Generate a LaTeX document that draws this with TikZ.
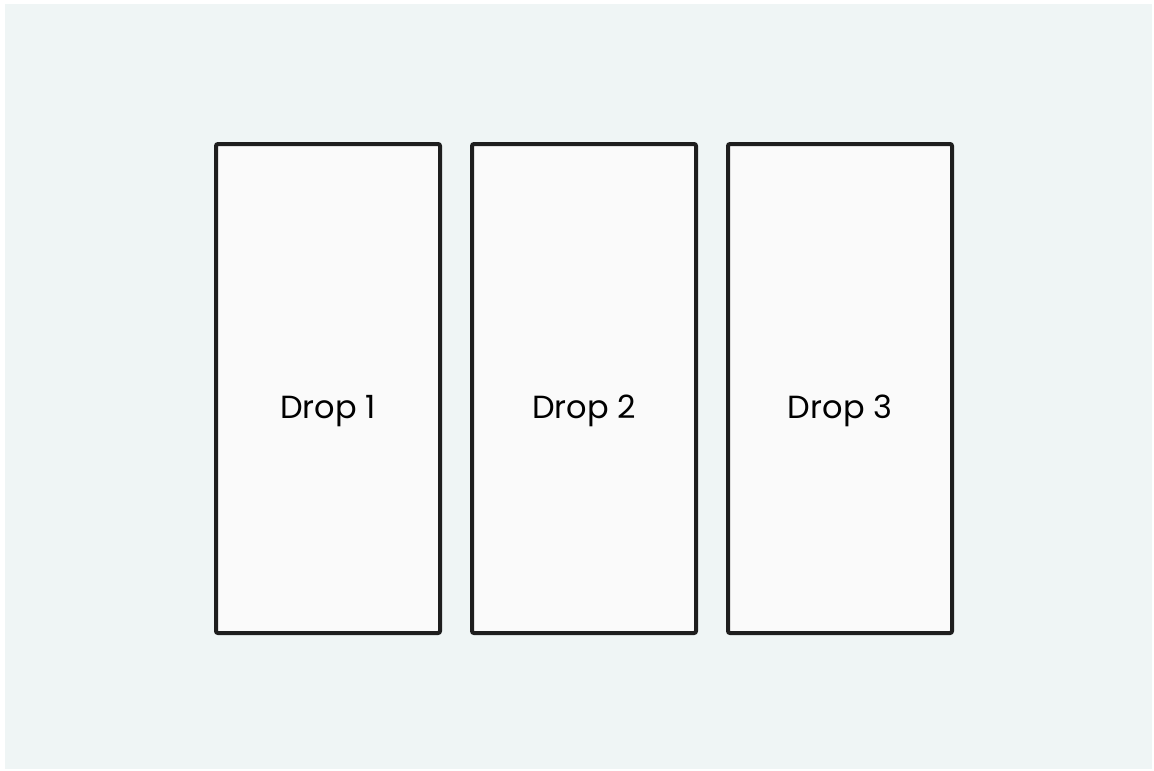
\documentclass[tikz,border=0pt]{standalone}
\usepackage{fontspec}
\setmainfont{Poppins}
\definecolor{bgc}{HTML}{EFF5F5}
\definecolor{boxc}{HTML}{FAFAFA}
\definecolor{linec}{HTML}{1E1E1E}
\begin{document}
\begin{tikzpicture}[x=1pt,y=-1pt,
  dropbox/.style={draw=linec,fill=boxc,line width=4pt,rounded corners=2pt,minimum width=224pt,minimum height=489pt,inner sep=0pt},
  droplabel/.style={anchor=base,inner sep=0pt,font=\fontsize{32}{36}\selectfont}]
\useasboundingbox (0,0) rectangle (1154,771);
\fill[bgc] (5,4) rectangle (1152,769);
\node[dropbox] (d1) at (328,388.5) {};
\node[dropbox] (d2) at (584,388.5) {};
\node[dropbox] (d3) at (840,388.5) {};
\node[droplabel] (t1) at ([yshift=-29.5pt]d1.center) {Drop 1};
\node[droplabel] (t2) at ([yshift=-29.5pt]d2.center) {Drop 2};
\node[droplabel] (t3) at ([yshift=-29.5pt]d3.center) {Drop 3};
\end{tikzpicture}
\end{document}
